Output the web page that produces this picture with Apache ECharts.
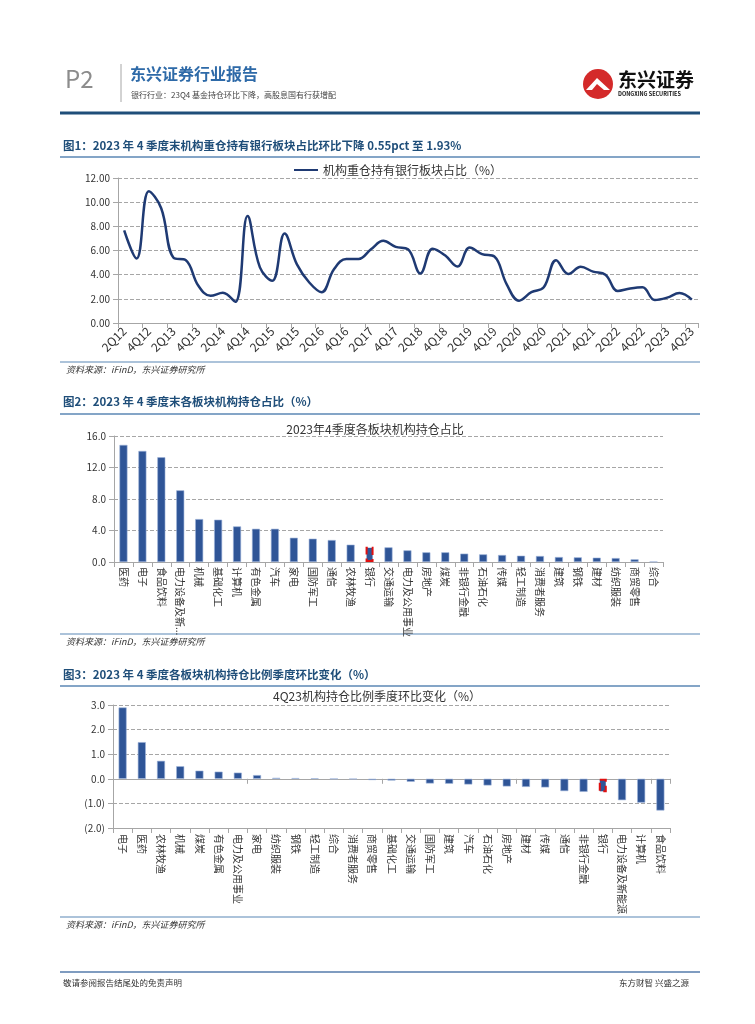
<!DOCTYPE html>
<html>
<head>
<meta charset="utf-8">
<script src="https://cdn.jsdelivr.net/npm/echarts@6/dist/echarts.min.js"></script>
<style>
html,body{margin:0;padding:0;background:#fff;}
#c{width:755px;height:1024px;}
</style>
</head>
<body>
<div id="c"></div>
<script>
// ---- Chart 1 data ----
const quarters = ['2Q12','3Q12','4Q12','1Q13','2Q13','3Q13','4Q13','1Q14','2Q14','3Q14','4Q14','1Q15','2Q15','3Q15','4Q15','1Q16','2Q16','3Q16','4Q16','1Q17','2Q17','3Q17','4Q17','1Q18','2Q18','3Q18','4Q18','1Q19','2Q19','3Q19','4Q19','1Q20','2Q20','3Q20','4Q20','1Q21','2Q21','3Q21','4Q21','1Q22','2Q22','3Q22','4Q22','1Q23','2Q23','3Q23','4Q23'];
const bankShare = [7.66,5.33,10.9,9.5,5.4,5.2,3.1,2.25,2.5,1.75,8.85,4.6,3.5,7.4,4.85,3.35,2.55,4.45,5.3,5.3,6.1,6.8,6.3,6.1,4.1,6.15,5.6,4.67,6.25,5.7,5.5,3.2,1.85,2.55,2.95,5.2,4.05,4.65,4.25,4.0,2.65,2.85,2.95,1.9,2.1,2.48,1.93];

// ---- Chart 2 data ----
const sectors2 = ['医药','电子','食品饮料','电力设备及新能源','机械','基础化工','计算机','有色金属','汽车','家电','国防军工','通信','农林牧渔','银行','交通运输','电力及公用事业','房地产','煤炭','非银行金融','石油石化','传媒','轻工制造','消费者服务','建筑','钢铁','建材','纺织服装','商贸零售','综合'];
const holding2 = [14.87,14.1,13.3,9.1,5.45,5.37,4.52,4.22,4.22,3.08,2.96,2.79,2.2,1.93,1.86,1.48,1.23,1.23,1.06,0.97,0.89,0.8,0.76,0.63,0.59,0.55,0.5,0.34,0.04];

// ---- Chart 3 data ----
const sectors3 = ['电子','医药','农林牧渔','机械','煤炭','有色金属','电力及公用事业','家电','纺织服装','钢铁','轻工制造','综合','消费者服务','商贸零售','基础化工','交通运输','国防军工','建筑','汽车','石油石化','房地产','建材','传媒','通信','非银行金融','银行','电力设备及新能源','计算机','食品饮料'];
const change3 = [2.9,1.49,0.73,0.51,0.33,0.29,0.25,0.15,0.04,0.03,0.02,0.0,-0.01,-0.05,-0.07,-0.12,-0.19,-0.2,-0.23,-0.27,-0.31,-0.33,-0.35,-0.5,-0.53,-0.55,-0.87,-0.97,-1.29];

// ---- Axis ticks ----
const y1Ticks = {min:0, max:12, interval:2};
const y2Ticks = {min:0, max:16, interval:4};
const y3Ticks = {min:-2, max:3, interval:1};

const FONT = '"Noto Sans CJK SC","Noto Sans",sans-serif';
const BAR = '#2F5597';
const highlight = {borderColor:'#E01010', borderWidth:2, borderType:'dashed'};
const mark = (cats, vals) => vals.map((v,i) => cats[i]==='银行' ? {value:v, itemStyle:Object.assign({color:BAR}, highlight)} : v);

const gridLine = {show:true, lineStyle:{color:'#A6A6A6', type:'dashed', width:1}};
const axisGray = {show:true, lineStyle:{color:'#A6A6A6', width:1}};

const chart = echarts.init(document.getElementById('c'), null, {renderer:'canvas'});

const secTitle = (y, text) => ({type:'text', left:63, top:y, style:{text:text, font:'bold 11.5px '+FONT, fill:'#1F4E79'}});
const hline = (y, color, w, x1, x2) => ({type:'line', shape:{x1:x1||60, y1:y, x2:x2||700, y2:y}, style:{stroke:color, lineWidth:w}});
const source = (y) => ({type:'text', left:66, top:y, style:{text:'资料来源：iFinD，东兴证券研究所', font:'italic 9px '+FONT, fill:'#333'}});

chart.setOption({
  animation:false,
  textStyle:{fontFamily:FONT},
  title:[
    {text:'2023年4季度各板块机构持仓占比', left:370, top:418, textAlign:'center', textStyle:{fontSize:12, fontWeight:'normal', color:'#333', fontFamily:FONT}},
    {text:'4Q23机构持仓比例季度环比变化（%）', left:372, top:685, textAlign:'center', textStyle:{fontSize:12, fontWeight:'normal', color:'#333', fontFamily:FONT}}
  ],
  legend:{
    data:['机构重仓持有银行板块占比（%）'], left:289, top:159, itemWidth:24, itemHeight:2, icon:'rect',
    textStyle:{fontSize:12, color:'#333', fontFamily:FONT}, itemGap:4
  },
  grid:[
    {left:118, right:57, top:178, height:145},
    {left:114, right:92, top:436, height:126},
    {left:113, right:85, top:705, height:123}
  ],
  xAxis:[
    {gridIndex:0, type:'category', data:quarters, boundaryGap:true,
      axisLine:axisGray, axisTick:{show:true, lineStyle:{color:'#A6A6A6'}},
      axisLabel:{interval:1, rotate:45, fontSize:12, color:'#333', margin:6}},
    {gridIndex:1, type:'category', data:sectors2,
      axisLine:axisGray, axisTick:{show:true, lineStyle:{color:'#A6A6A6'}},
      axisLabel:{interval:0, rotate:-90, fontSize:10, color:'#333', margin:5, width:72, overflow:'truncate', ellipsis:'...'}},
    {gridIndex:2, type:'category', data:sectors3, position:'bottom',
      axisLine:{show:true, onZero:false, lineStyle:{color:'#A6A6A6'}}, axisTick:{show:true, lineStyle:{color:'#A6A6A6'}},
      axisLabel:{interval:0, rotate:-90, fontSize:10, color:'#333', margin:6}},
    {gridIndex:2, type:'category', data:sectors3, position:'bottom',
      axisLine:{show:true, onZero:true, lineStyle:{color:'#A6A6A6'}}, axisTick:{show:true, lineStyle:{color:'#A6A6A6'}},
      axisLabel:{show:false}}
  ],
  yAxis:[
    {gridIndex:0, type:'value', min:y1Ticks.min, max:y1Ticks.max, interval:y1Ticks.interval,
      axisLine:axisGray, axisTick:{show:true, lineStyle:{color:'#A6A6A6'}}, splitLine:gridLine,
      axisLabel:{fontSize:10, color:'#333', formatter:v=>v.toFixed(2)}},
    {gridIndex:1, type:'value', min:y2Ticks.min, max:y2Ticks.max, interval:y2Ticks.interval,
      axisLine:axisGray, axisTick:{show:true, lineStyle:{color:'#A6A6A6'}}, splitLine:gridLine,
      axisLabel:{fontSize:10, color:'#333', formatter:v=>v.toFixed(1)}},
    {gridIndex:2, type:'value', min:y3Ticks.min, max:y3Ticks.max, interval:y3Ticks.interval,
      axisLine:axisGray, axisTick:{show:true, lineStyle:{color:'#A6A6A6'}}, splitLine:gridLine,
      axisLabel:{fontSize:10, color:'#333', formatter:v=> v<0 ? '('+Math.abs(v).toFixed(1)+')' : v.toFixed(1)}}
  ],
  series:[
    {name:'机构重仓持有银行板块占比（%）', type:'line', xAxisIndex:0, yAxisIndex:0, data:bankShare,
      smooth:0.4, symbol:'none', lineStyle:{color:'#1F3A73', width:2.5}, itemStyle:{color:'#1F3A73'}},
    {type:'bar', xAxisIndex:1, yAxisIndex:1, data:mark(sectors2, holding2), barWidth:8,
      itemStyle:{color:BAR, borderColor:'#9DB3DA', borderWidth:0.6}},
    {type:'bar', xAxisIndex:2, yAxisIndex:2, data:mark(sectors3, change3), barWidth:8,
      itemStyle:{color:BAR, borderColor:'#9DB3DA', borderWidth:0.6}}
  ],
  graphic:[
    {type:'text', left:65, top:67, style:{text:'P2', font:'24px '+FONT, fill:'#8C8C8C'}},
    {type:'line', shape:{x1:121, y1:64, x2:121, y2:102}, style:{stroke:'#A6A6A6', lineWidth:1}},
    {type:'text', left:130, top:66, style:{text:'东兴证券行业报告', font:'bold 16px '+FONT, fill:'#2E6AA8'}},
    {type:'text', left:131, top:91, style:{text:'银行行业：23Q4 基金持仓环比下降，高股息国有行获增配', font:'8px '+FONT, fill:'#444'}},
    {type:'circle', shape:{cx:598, cy:84, r:15}, style:{fill:'#D42A2A'}},
    {type:'polygon', shape:{points:[[586,90],[597,78],[610,90],[604,90],[597,84],[592,90]]}, style:{fill:'#fff'}},
    {type:'text', left:618, top:70, style:{text:'东兴证券', font:'bold 19px '+FONT, fill:'#111'}},
    {type:'text', left:618, top:91, style:{text:'DONGXING SECURITIES', font:'bold 5.5px '+FONT, fill:'#111'}},
    hline(113, '#1F4E79', 3),
    secTitle(140, '图1：2023 年 4 季度末机构重仓持有银行板块占比环比下降 0.55pct 至 1.93%'),
    hline(157, '#5B87B5', 1.5),
    hline(362, '#5B87B5', 1.2),
    source(365),
    secTitle(396, '图2：2023 年 4 季度末各板块机构持仓占比（%）'),
    hline(414, '#5B87B5', 1.5),
    hline(634, '#5B87B5', 1.2),
    source(637),
    secTitle(669, '图3：2023 年 4 季度各板块机构持仓比例季度环比变化（%）'),
    hline(686, '#5B87B5', 1.5),
    hline(917, '#5B87B5', 1.2),
    source(920),
    hline(972, '#7F9CC0', 2),
    {type:'text', left:63, top:979, style:{text:'敬请参阅报告结尾处的免责声明', font:'8.5px '+FONT, fill:'#333'}},
    {type:'text', right:66, top:979, style:{text:'东方财智 兴盛之源', font:'8.5px '+FONT, fill:'#333'}}
  ]
});
</script>
</body>
</html>
